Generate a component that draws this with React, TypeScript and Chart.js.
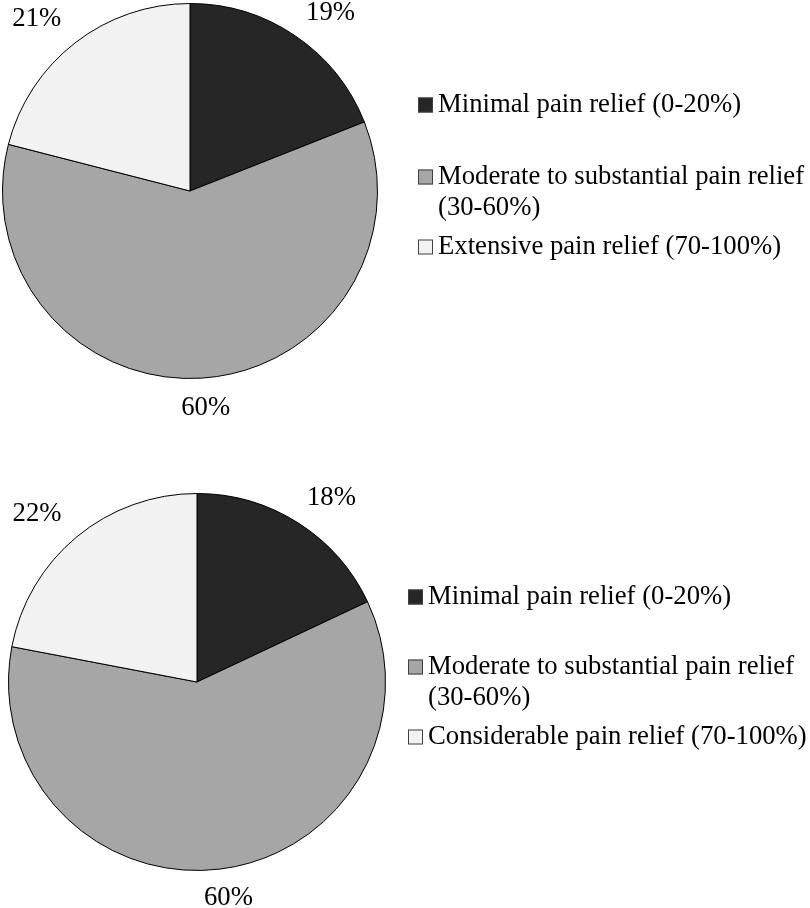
import React, { useRef, useEffect } from "react";
import { Chart, registerables } from "chart.js";

Chart.register(...registerables);

const categoriesTop = [
  "Minimal pain relief (0-20%)",
  ["Moderate to substantial pain relief", "(30-60%)"],
  "Extensive pain relief (70-100%)",
];
const categoriesBottom = [
  "Minimal pain relief (0-20%)",
  ["Moderate to substantial pain relief", "(30-60%)"],
  "Considerable pain relief (70-100%)",
];
const valuesTop = [19, 60, 21];
const valuesBottom = [18, 60, 22];
const sliceColors = ["#262626", "#a6a6a6", "#f2f2f2"];

const FONT_SIZE = 26.7;
const FONT = `${FONT_SIZE}px "Liberation Serif", "Times New Roman", serif`;

const pieLabelsPlugin = {
  id: "pieLabels",
  afterDraw(chart: any, _args: any, opts: any) {
    const ctx = chart.ctx;
    const meta = chart.getDatasetMeta(0);
    const ds = chart.data.datasets[0];
    ctx.save();
    ctx.font = FONT;
    ctx.fillStyle = "#000";
    ctx.textAlign = "center";
    ctx.textBaseline = "middle";
    meta.data.forEach((arc: any, i: number) => {
      const { x, y, startAngle, endAngle, outerRadius } = arc.getProps(
        ["x", "y", "startAngle", "endAngle", "outerRadius"],
        true
      );
      const mid = (startAngle + endAngle) / 2;
      const dx = Math.cos(mid);
      const dy = Math.sin(mid);
      const text = `${ds.data[i]}%`;
      const w = ctx.measureText(text).width;
      const h = FONT_SIZE * 0.72;
      const d = outerRadius + opts.gap;
      const lx = x + dx * (d + opts.extraX) + (dx * w) / 2;
      // keep labels inside the canvas like the original plot area does
      const ly = Math.max(y + dy * d + (dy * h) / 2, h / 2 + 3);
      ctx.fillText(text, lx, ly);
    });

    // legend on the right
    ctx.textAlign = "left";
    chart.data.labels.forEach((label: any, i: number) => {
      const lines = Array.isArray(label) ? label : [label];
      const rowY = opts.rowY[i];
      ctx.fillStyle = ds.backgroundColor[i];
      ctx.fillRect(opts.legendX, rowY - 7.5, 15, 15);
      ctx.strokeStyle = "#404040";
      ctx.lineWidth = 1;
      ctx.strokeRect(opts.legendX + 0.5, rowY - 7, 14, 14);
      ctx.fillStyle = "#000";
      lines.forEach((ln: string, j: number) => {
        ctx.fillText(ln, opts.legendX + 20, rowY + j * 31);
      });
    });
    ctx.restore();
  },
};

interface PieProps {
  labels: any[];
  values: number[];
  padding: { left: number; top: number; right: number; bottom: number };
  legendX: number;
  rowY: number[];
}

const PieChart: React.FC<PieProps> = ({ labels, values, padding, legendX, rowY }) => {
  const canvasRef = useRef<HTMLCanvasElement | null>(null);
  const chartRef = useRef<Chart | null>(null);

  useEffect(() => {
    if (!canvasRef.current) return;
    chartRef.current = new Chart(canvasRef.current, {
      type: "pie",
      data: {
        labels,
        datasets: [
          {
            data: values,
            backgroundColor: sliceColors,
            borderColor: "#000",
            borderWidth: 1,
          },
        ],
      },
      options: {
        responsive: false,
        animation: false,
        layout: { padding },
        plugins: {
          legend: { display: false },
          tooltip: { enabled: false },
          pieLabels: { gap: 20, extraX: 18, legendX, rowY },
        } as any,
      },
      plugins: [pieLabelsPlugin],
    });
    return () => {
      chartRef.current?.destroy();
    };
  }, [labels, values, padding, legendX, rowY]);

  return <canvas ref={canvasRef} width={810} height={454} style={{ display: "block", width: 810, height: 454 }} />;
};

const App: React.FC = () => {
  useEffect(() => {
    document.body.style.margin = "0";
  }, []);
  return (
    <div style={{ width: 810, height: 908, background: "#fff" }}>
      <PieChart
        labels={categoriesTop}
        values={valuesTop}
        padding={{ left: 2, top: 3, right: 432, bottom: 75 }}
        legendX={418}
        rowY={[105, 177, 247]}
      />
      <PieChart
        labels={categoriesBottom}
        values={valuesBottom}
        padding={{ left: 8, top: 39, right: 424, bottom: 37 }}
        legendX={408}
        rowY={[143, 213, 283]}
      />
    </div>
  );
};

export default App;
